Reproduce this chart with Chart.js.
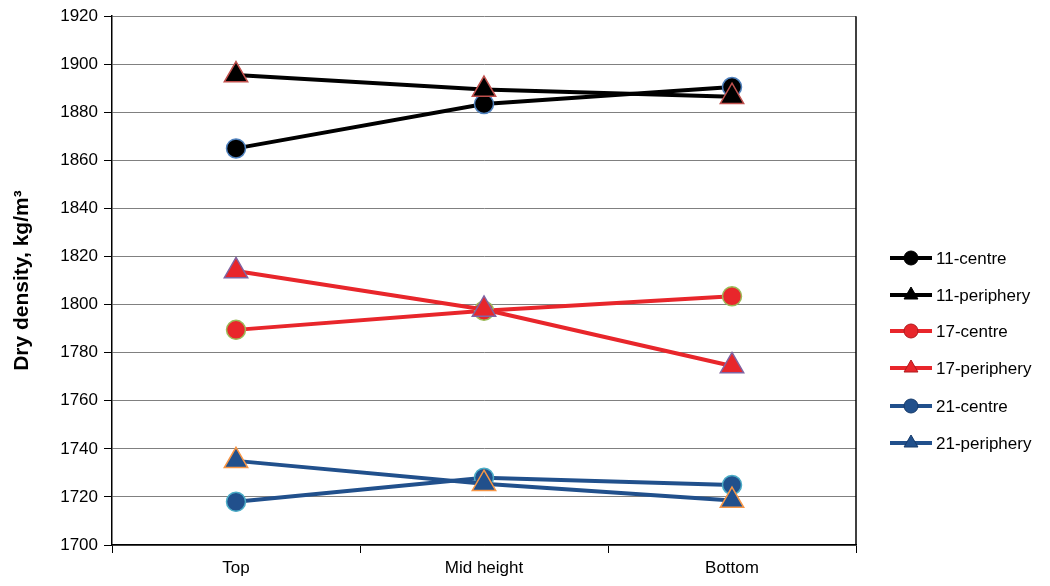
<!DOCTYPE html>
<html>
<head>
<meta charset="utf-8">
<script src="https://cdn.jsdelivr.net/npm/chart.js@4"></script>
<style>
  html, body { margin: 0; padding: 0; background: #fff; }
  #wrap { width: 1050px; height: 586px; }
</style>
</head>
<body>
<div id="wrap"><canvas id="myChart" width="1050" height="586"></canvas></div>
<script>
const positions = ["Top", "Mid height", "Bottom"];
const yTicks = [1700, 1720, 1740, 1760, 1780, 1800, 1820, 1840, 1860, 1880, 1900, 1920];
const seriesNames = ["11-centre", "11-periphery", "17-centre", "17-periphery", "21-centre", "21-periphery"];
const c11 = [1865, 1883.5, 1890.5];
const p11 = [1895.5, 1889.5, 1886.5];
const c17 = [1789.5, 1797.5, 1803.5];
const p17 = [1814, 1798, 1774.5];
const c21 = [1718, 1728, 1725];
const p21 = [1735, 1725.5, 1718.5];

const lineColors = ["#000000", "#000000", "#e8262b", "#e8262b", "#21508c", "#21508c"];
const markerBorders = ["#4f81bd", "#c0504d", "#9bbb59", "#8064a2", "#4bacc6", "#f79646"];
const markerStyles = ["circle", "triangle", "circle", "triangle", "circle", "triangle"];
const allValues = [c11, p11, c17, p17, c21, p21];

Chart.defaults.font.family = "'Liberation Sans', Arial, sans-serif";
Chart.defaults.color = "#000";

const datasets = seriesNames.map(function (name, i) {
  return {
    label: name,
    data: allValues[i],
    order: seriesNames.length - i, // later series on top, like the original
    borderColor: lineColors[i],
    backgroundColor: lineColors[i],
    borderWidth: 4,
    pointStyle: markerStyles[i],
    pointRadius: markerStyles[i] === "circle" ? 9.5 : 13.5,
    pointBackgroundColor: lineColors[i],
    pointBorderColor: markerBorders[i],
    pointBorderWidth: 1.5,
    tension: 0
  };
});

// right frame line + legend with line and marker
const extras = {
  id: "extras",
  afterDraw(chart) {
    const ctx = chart.ctx;
    const a = chart.chartArea;
    ctx.save();
    ctx.strokeStyle = "#000";
    ctx.lineWidth = 1.5;
    ctx.beginPath();
    ctx.moveTo(a.right, a.top);
    ctx.lineTo(a.right, a.bottom);
    ctx.stroke();

    const rowY = [258, 295, 331, 368, 406, 443];
    chart.data.datasets.forEach(function (ds, i) {
      const y = rowY[i];
      ctx.strokeStyle = ds.borderColor;
      ctx.lineWidth = 4;
      ctx.beginPath();
      ctx.moveTo(890, y);
      ctx.lineTo(932, y);
      ctx.stroke();
      ctx.fillStyle = ds.borderColor;
      ctx.strokeStyle = i < 2 ? ds.borderColor : (i < 4 ? "#b01a1e" : "#163a6a");
      ctx.lineWidth = 1;
      Chart.helpers.drawPoint(ctx, {
        pointStyle: ds.pointStyle,
        radius: ds.pointStyle === "circle" ? 7 : 8,
        rotation: 0,
        borderWidth: 1
      }, 911, y);
      ctx.fillStyle = "#000";
      ctx.font = "17px 'Liberation Sans', Arial, sans-serif";
      ctx.textBaseline = "middle";
      ctx.textAlign = "left";
      ctx.fillText(ds.label, 936, y + 1);
    });
    ctx.restore();
  }
};

new Chart(document.getElementById("myChart"), {
  type: "line",
  data: {
    labels: positions,
    datasets: datasets
  },
  options: {
    responsive: false,
    animation: false,
    layout: { padding: { left: 0, right: 194, top: 16, bottom: 0 } },
    plugins: {
      legend: { display: false },
      tooltip: { enabled: false }
    },
    scales: {
      x: {
        type: "category",
        offset: true,
        grid: {
          offset: true,
          drawOnChartArea: false,
          drawTicks: true,
          tickLength: 8,
          tickColor: "#000"
        },
        border: { color: "#000", width: 1.5 },
        ticks: { font: { size: 17 }, padding: 5, color: "#000" },
        afterFit(scale) { scale.height = 41; }
      },
      y: {
        min: 1700,
        max: 1920,
        afterBuildTicks(scale) {
          scale.ticks = yTicks.map(function (v) { return { value: v }; });
        },
        grid: {
          color: "#808080",
          lineWidth: 1,
          tickLength: 8,
          tickColor: "#000"
        },
        border: { color: "#000", width: 1.5 },
        ticks: {
          font: { size: 17 },
          padding: 6,
          color: "#000",
          callback: function (v) { return String(v); }
        },
        title: {
          display: true,
          text: "Dry density, kg/m³",
          font: { size: 21, weight: "bold" },
          color: "#000",
          padding: { top: 10, bottom: 0 }
        },
        afterFit(scale) { scale.width = 112; }
      }
    }
  },
  plugins: [extras]
});
</script>
</body>
</html>
